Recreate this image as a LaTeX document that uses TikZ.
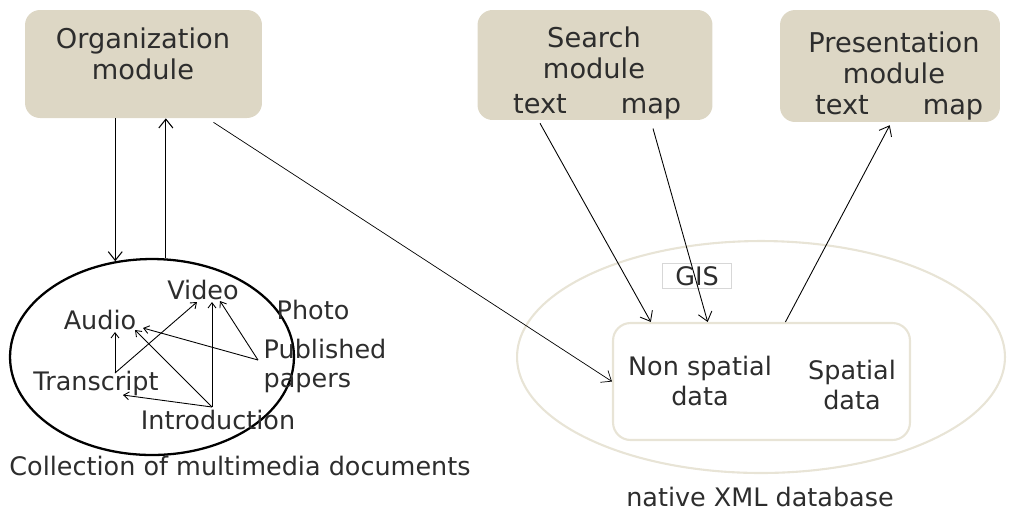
\documentclass[tikz,border=0pt]{standalone}
\usepackage{fontspec}
\setmainfont{DejaVu Sans}
\usetikzlibrary{arrows.meta,calc,shapes.geometric}
\definecolor{modfill}{RGB}{221,215,197}
\definecolor{dbline}{RGB}{232,228,214}
\definecolor{gisline}{RGB}{215,215,215}
\definecolor{txtgray}{RGB}{45,45,45}
\begin{document}
\begin{tikzpicture}[x=0.02cm,y=-0.02cm,
	every node/.style={text=txtgray,font=\fontsize{14.5}{17}\selectfont,align=center},
	modbox/.style={fill=modfill,rounded corners=0.3cm,inner sep=0pt},
	modtxt/.style={font=\fontsize{15.5}{17.5}\selectfont,inner sep=2pt},
	bigarr/.style={-{Straight Barb[length=5pt,width=8pt]},line width=0.6pt},
	smallarr/.style={-{Straight Barb[length=3pt,width=4.5pt]},line width=0.5pt}]
	\useasboundingbox (0,0) rectangle (1010,512);
	\node [modbox,minimum width=4.74cm,minimum height=2.16cm] (org) at (143.5,64) {};
	\node [modtxt] (orgt) at (143,54) {Organization\\module};
	\node [modbox,minimum width=4.7cm,minimum height=2.2cm] (search) at (595,65) {};
	\node [modtxt] (searcht) at (594,53) {Search\\module};
	\node [modtxt,anchor=base] (stext) at (540,113) {text};
	\node [modtxt,anchor=base] (smap) at (651,113) {map};
	\node [modbox,minimum width=4.4cm,minimum height=2.24cm] (pres) at (890,66) {};
	\node [modtxt] (prest) at (894,58) {Presentation\\module};
	\node [modtxt,anchor=base] (ptext) at (842,114) {text};
	\node [modtxt,anchor=base] (pmap) at (953,114) {map};
	\node [draw=dbline,line width=1.2pt,ellipse,minimum width=9.76cm,minimum height=4.64cm] (xml) at (761,357) {};
	\node [draw=gisline,line width=0.6pt,fill=white,minimum width=1.38cm,minimum height=0.5cm,inner sep=0pt] (gis) at (697,276) {GIS};
	\node [draw=dbline,line width=1.2pt,fill=white,rounded corners=0.35cm,minimum width=5.94cm,minimum height=2.34cm] (db) at (761.5,381.5) {};
	\node (nsd) at (700,381) {Non spatial\\data};
	\node (sd) at (852,385) {Spatial\\data};
	\node (xmlt) at (760,497) {native XML database};
	\node [draw,line width=1.3pt,ellipse,minimum width=5.68cm,minimum height=3.92cm] (coll) at (152,357) {};
	\node (collt) at (240,466) {Collection of multimedia documents};
	\node [inner sep=1pt] (video) at (203,290) {Video};
	\node [inner sep=1pt] (photo) at (313,310) {Photo};
	\node [inner sep=1pt] (audio) at (100,320) {Audio};
	\node [inner sep=1pt,align=left] (pub) at (325,366) {Published\\papers};
	\node [inner sep=1pt] (trans) at (96,383) {Transcript};
	\node [inner sep=1pt] (intro) at (218,420) {Introduction};
	\draw [bigarr] (org.south -| coll.111) -- (coll.111);
	\draw [bigarr] (coll.82) -- (org.south -| coll.82);
	\draw [bigarr,line width=0.4pt] ($(org.south)+(70,4)$) -- (db.west);
	\draw [bigarr,line width=0.5pt] ($(stext.south)+(0,6)$) -- ($(db.north west)!0.13!(db.north east)$);
	\draw [bigarr,line width=0.5pt] ($(smap.south)+(2,6)$) -- ($(db.north west)!0.32!(db.north east)$);
	\draw [bigarr,line width=0.5pt] ($(db.north west)!0.58!(db.north east)$) -- ($(ptext.south east)+(17,7)$);
	\draw [smallarr] ($(trans)+(19,-10)$) -- ($(audio)+(15,12)$);
	\draw [smallarr] ($(trans)+(19,-10)$) -- ($(video)+(-6,12)$);
	\draw [smallarr] ($(pub)+(-67,-6)$) -- ($(audio)+(43,8)$);
	\draw [smallarr] ($(pub)+(-67,-6)$) -- ($(video)+(17,11)$);
	\draw [smallarr] ($(intro)+(-6,-13)$) -- ($(video)+(9,12)$);
	\draw [smallarr] ($(intro)+(-6,-13)$) -- ($(audio)+(35,10)$);
	\draw [smallarr] ($(intro)+(-6,-13)$) -- ($(trans)+(27,12)$);
\end{tikzpicture}
\end{document}
